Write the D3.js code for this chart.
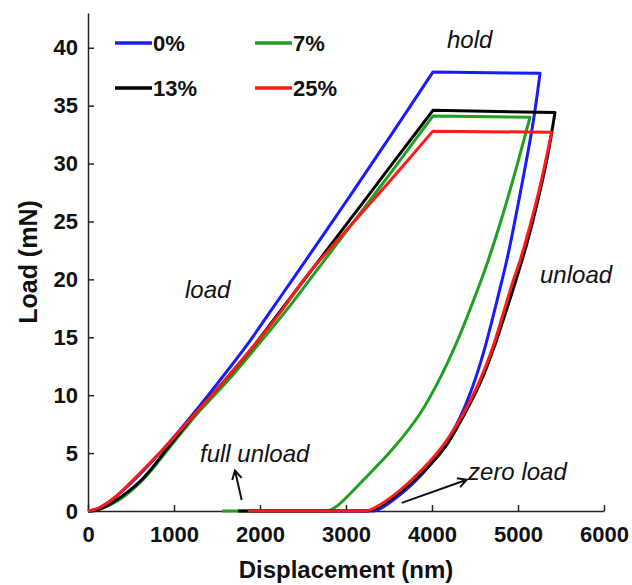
<!DOCTYPE html>
<html>
<head>
<meta charset="utf-8">
<script src="https://cdn.jsdelivr.net/npm/d3@7"></script>
<style>
  body { margin: 0; background: #fff; }
  text { font-family: "Liberation Sans", Arial, sans-serif; fill: #111; }
</style>
</head>
<body>
<div id="chart"></div>
<script>
/**
 * CONSTANTS AND GLOBALS
 * */
const width = 632,
  height = 585,
  margin = { top: 13, bottom: 74, left: 88, right: 28 };

// series names + colours
const seriesNames = ["0%", "7%", "13%", "25%"];
const seriesColors = ["#1a1aff", "#20a020", "#000000", "#ff1a1a"];

// loading branch, [displacement nm, load mN]
const load0 = [[0,0],[120,0.2],[300,1.1],[540,2.7],[895,5.5],[1225,8.4],[1535,11.3],[1845,14.3],[2155,17.6],[2500,21.3],[3000,26.7],[3500,32.2],[4010,37.9]];
const load7 = [[0,0],[150,0.2],[350,0.9],[640,2.7],[950,5.5],[1270,8.4],[1632,11.3],[1961,14.2],[2325,17.5],[2581,20.0],[3000,24.1],[3500,29.0],[4010,34.1]];
const load13 = [[0,0],[100,0.05],[300,0.8],[624,2.7],[934,5.5],[1244,8.4],[1593,11.3],[1922,14.2],[2271,17.6],[2600,20.8],[3000,24.7],[3500,29.6],[3900,33.5],[4010,34.6]];
const load25 = [[0,0],[120,0.25],[300,1.1],[527,2.7],[895,5.5],[1244,8.4],[1593,11.3],[1922,14.2],[2233,17.1],[2543,20.3],[3000,24.2],[3500,28.4],[4010,32.8]];

// unloading branch (starts at the end of the hold)
const unload0 = [[5256,37.8],[5175,33.5],[5030,27.6],[4880,22.0],[4790,19.2],[4700,16.5],[4600,13.7],[4480,10.9],[4340,8.3],[4132,5.5],[3822,2.7],[3560,1.0],[3400,0.2],[3330,0]];
const unload7 = [[5140,34.0],[5020,30.7],[4880,27.0],[4740,23.6],[4600,20.5],[4442,17.4],[4290,14.6],[4095,11.5],[3860,8.4],[3560,5.5],[3205,2.7],[2891,0.4],[2790,0]];
const unload13 = [[5430,34.4],[5340,30.5],[5230,26.8],[5100,23.0],[4975,19.9],[4855,17.1],[4730,14.3],[4575,11.3],[4380,8.4],[4151,5.5],[3802,2.7],[3500,0.9],[3330,0.15],[3250,0]];
const unload25 = [[5391,32.7],[5236,27.4],[5023,21.6],[4945,19.9],[4830,17.1],[4710,14.2],[4558,11.3],[4364,8.4],[4112,5.5],[3764,2.7],[3473,0.9],[3300,0.15],[3221,0]];

// where the zero-load segment ends (full unload)
const zeroEnd = [1870, 1560, 1745, 1860];

const xTicks = [0, 1000, 2000, 3000, 4000, 5000, 6000];
const yTicks = [0, 5, 10, 15, 20, 25, 30, 35, 40];

// annotations in data units
const notes = [
  { text: "hold", at: [4174, 40.0] },
  { text: "load", at: [1128, 18.4] },
  { text: "unload", at: [5256, 19.7] },
  { text: "full unload", at: [1302, 4.2] },
  { text: "zero load", at: [4419, 2.7] },
];
const arrows = [
  { from: [1787, 0.95], to: [1709, 3.5] },
  { from: [3648, 0.7], to: [4404, 2.7] },
];

const loads = [load0, load7, load13, load25];
const unloads = [unload0, unload7, unload13, unload25];

/**
 * SCALES + SVG
 * */
const x = d3.scaleLinear().domain([0, 6000]).range([margin.left, width - margin.right]);
const y = d3.scaleLinear().domain([0, 43]).range([height - margin.bottom, margin.top]);

const svg = d3.select("#chart").append("svg")
  .attr("width", width)
  .attr("height", height);

// axes, ticks point inward
svg.append("g")
  .attr("transform", `translate(0,${y(0)})`)
  .call(d3.axisBottom(x).tickValues(xTicks).tickFormat(d3.format("d"))
    .tickSizeInner(-6).tickSizeOuter(0).tickPadding(15))
  .call(g => g.selectAll("text").attr("font-size", 22).attr("font-weight", "bold").attr("font-family", null))
  .call(g => g.selectAll("path,line").attr("stroke", "#222").attr("stroke-width", 1.5));

svg.append("g")
  .attr("transform", `translate(${x(0)},0)`)
  .call(d3.axisLeft(y).tickValues(yTicks).tickSizeInner(-6).tickSizeOuter(0).tickPadding(10))
  .call(g => g.selectAll("text").attr("font-size", 22).attr("font-weight", "bold").attr("font-family", null))
  .call(g => g.selectAll("path,line").attr("stroke", "#222").attr("stroke-width", 1.5));

// axis titles
svg.append("text")
  .attr("x", (x(0) + x(6000)) / 2)
  .attr("y", 578)
  .attr("text-anchor", "middle")
  .attr("font-size", 24)
  .attr("font-weight", "bold")
  .text("Displacement (nm)");

svg.append("text")
  .attr("transform", `translate(37,${(y(0) + y(43)) / 2}) rotate(-90)`)
  .attr("text-anchor", "middle")
  .attr("font-size", 25)
  .attr("font-weight", "bold")
  .text("Load (mN)");

/**
 * CURVES
 * load -> hold (straight) -> unload -> zero load segment
 * */
const curve = d3.line()
  .x(d => x(d[0]))
  .y(d => y(d[1]))
  .curve(d3.curveCatmullRom.alpha(0.5));

seriesNames.forEach((name, i) => {
  const d = curve(loads[i]) +
    curve(unloads[i]).replace(/^M/, "L") +
    `L${x(zeroEnd[i])},${y(0)}`;
  svg.append("path")
    .attr("d", d)
    .attr("fill", "none")
    .attr("stroke", seriesColors[i])
    .attr("stroke-width", 3)
    .attr("stroke-linejoin", "round");
});

/**
 * LEGEND
 * */
const legendPos = [[115, 43], [255, 43], [115, 88], [255, 88]];
seriesNames.forEach((name, i) => {
  const [lx, ly] = legendPos[i];
  svg.append("line")
    .attr("x1", lx).attr("x2", lx + 37)
    .attr("y1", ly).attr("y2", ly)
    .attr("stroke", seriesColors[i])
    .attr("stroke-width", 3.5);
  svg.append("text")
    .attr("x", lx + 38)
    .attr("y", ly + 8)
    .attr("font-size", 22)
    .attr("font-weight", "bold")
    .text(name);
});

/**
 * ANNOTATIONS
 * */
notes.forEach(n => {
  svg.append("text")
    .attr("x", x(n.at[0]))
    .attr("y", y(n.at[1]))
    .attr("font-size", 24)
    .attr("font-style", "italic")
    .text(n.text);
});

arrows.forEach(a => {
  const x1 = x(a.from[0]), y1 = y(a.from[1]);
  const x2 = x(a.to[0]), y2 = y(a.to[1]);
  const ang = Math.atan2(y2 - y1, x2 - x1);
  const len = 10, spread = 0.5;
  svg.append("path")
    .attr("d", `M${x1},${y1}L${x2},${y2}` +
      `M${x2 - len * Math.cos(ang - spread)},${y2 - len * Math.sin(ang - spread)}L${x2},${y2}` +
      `L${x2 - len * Math.cos(ang + spread)},${y2 - len * Math.sin(ang + spread)}`)
    .attr("fill", "none")
    .attr("stroke", "#111")
    .attr("stroke-width", 2);
});
</script>
</body>
</html>
